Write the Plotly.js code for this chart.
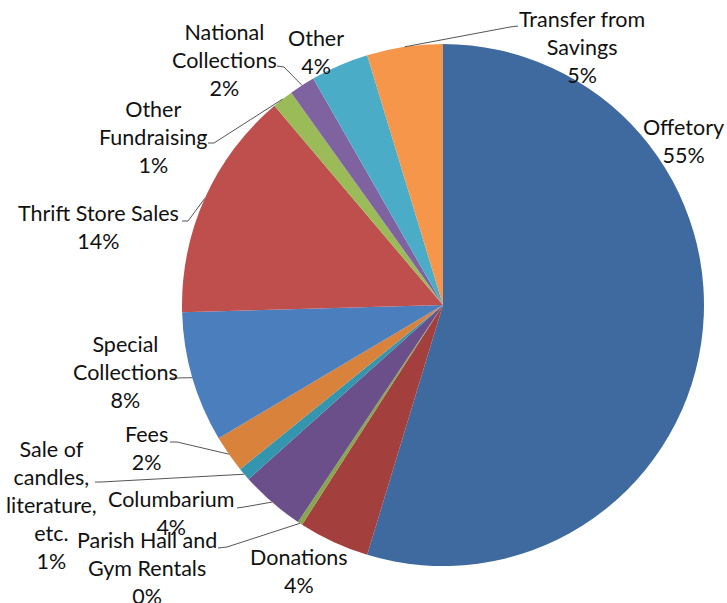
<!DOCTYPE html>
<html>
<head>
<meta charset="utf-8">
<script src="https://cdn.plot.ly/plotly-3.0.1.min.js"></script>
<style>html,body{margin:0;padding:0;background:#fff;}#chart{width:727px;height:603px;}</style>
</head>
<body>
<div id="chart"></div>
<script>
// ---- data ----
var labels = ["Offetory", "Donations", "Parish Hall and Gym Rentals", "Columbarium",
  "Sale of candles, literature, etc.", "Fees", "Special Collections", "Thrift Store Sales",
  "Other Fundraising", "National Collections", "Other", "Transfer from Savings"];
var labelLines = ["Offetory", "Donations", "Parish Hall and<br>Gym Rentals", "Columbarium",
  "Sale of<br>candles,<br>literature,<br>etc.", "Fees", "Special<br>Collections", "Thrift Store Sales",
  "Other<br>Fundraising", "National<br>Collections", "Other", "Transfer from<br>Savings"];
var values = [54.8, 4.4, 0.3, 4.0, 0.8, 2.3, 8.1, 14.3, 1.3, 1.6, 3.6, 4.7];
var colors = ["#3F6A9F", "#A3403D", "#87A64E", "#6A4F8B", "#3495AF", "#D9823B",
  "#4A7EBD", "#BE4F4C", "#9BBB59", "#7F63A1", "#4AACC6", "#F6964A"];

// ---- layout (pixels) ----
var W = 727, H = 603;
var cx = 443, cy = 305, R = 261;
var labelCenter = [[683,141],[299,571],[147,568],[171,513],[51,505],[146,448],[125,372],[98,227],[153,137],[224,60],[316,52],[582,47]];
var leaderStart = [null, null, [[218,548],[227,547]], [[237,508],[244,507]], [[95,482],[101,482]],
  [[170,442],[177,442]], [[170,378],[176,378]], [[182,221],[188,221]], [[208,143],[214,143]],
  [[277,66],[284,67]], null, [[518,26],[510,27]]];

var total = values.reduce(function(a,b){return a+b;},0);
function px(x){return x/W;}
function py(y){return 1 - y/H;}

var annotations = [], shapes = [];
var cum = 0;
for (var i = 0; i < values.length; i++) {
  var pct = Math.round(values[i]/total*100) + '%';
  annotations.push({
    xref:'paper', yref:'paper', x:px(labelCenter[i][0]), y:py(labelCenter[i][1]),
    xanchor:'center', yanchor:'middle', showarrow:false, align:'center',
    text: labelLines[i] + '<br>' + pct,
    font:{family:'Lato, "Open Sans", sans-serif', size:21.5, color:'#111'}
  });
  var mid = (cum + values[i]/2)/total*2*Math.PI;
  cum += values[i];
  if (leaderStart[i]) {
    var ex = cx + R*Math.sin(mid), ey = cy - R*Math.cos(mid);
    var pts = leaderStart[i].concat([[ex,ey]]);
    var d = pts.map(function(p,k){return (k? 'L':'M') + px(p[0]) + ',' + py(p[1]);}).join(' ');
    shapes.push({type:'path', xref:'paper', yref:'paper', path:d, line:{color:'#555', width:1}});
  }
}

var trace = {
  type:'pie', labels:labels, values:values, sort:false, direction:'clockwise', rotation:0,
  marker:{colors:colors, line:{width:0}}, textinfo:'none', hoverinfo:'label+percent',
  domain:{x:[px(cx-R), px(cx+R)], y:[py(cy+R), py(cy-R)]}
};
var layout = {
  width:W, height:H, margin:{l:0,r:0,t:0,b:0}, showlegend:false,
  paper_bgcolor:'#fff', annotations:annotations, shapes:shapes
};
Plotly.newPlot('chart', [trace], layout, {displayModeBar:false, staticPlot:true});
</script>
</body>
</html>
